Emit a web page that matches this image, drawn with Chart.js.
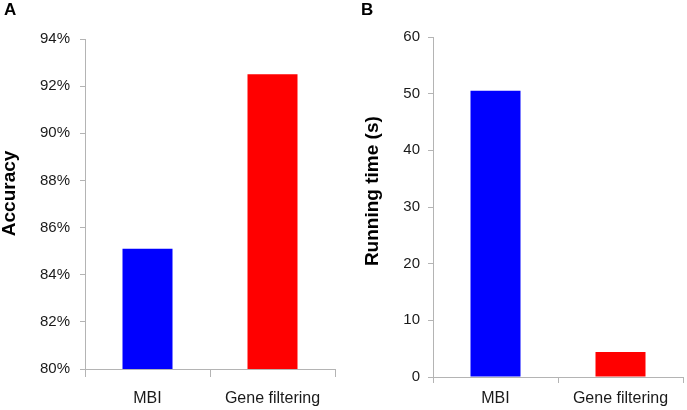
<!DOCTYPE html>
<html>
<head>
<meta charset="utf-8">
<script src="https://cdn.jsdelivr.net/npm/chart.js@4/dist/chart.umd.min.js"></script>
<style>
body{margin:0;background:#fff;width:687px;height:410px;position:relative;overflow:hidden;font-family:"Liberation Sans",Arial,sans-serif}
.panel{position:absolute;top:0;height:410px}
.letter{position:absolute;top:0;font-weight:bold;font-size:17px;color:#000}
</style>
</head>
<body>
<div class="panel" style="left:0;width:343px"><canvas id="accChart" width="343" height="410"></canvas></div>
<div class="panel" style="left:343px;width:344px"><canvas id="timeChart" width="344" height="410"></canvas></div>
<div class="letter" style="left:4px">A</div>
<div class="letter" style="left:361px">B</div>
<script>
const categories = ["MBI", "Gene filtering"]
const accuracy = [85.1, 92.5]
const runningTime = [50.5, 4.4]
const accuracyTicks = [80, 82, 84, 86, 88, 90, 92, 94]
const timeTicks = [0, 10, 20, 30, 40, 50, 60]
const barColors = ["#0000ff", "#ff0000"]

const axisGray = "#b4b4b4"
const txt = "#1a1a1a"
const fam = '"Liberation Sans", Arial, sans-serif'

// leading no-break spaces nudge the rotated title a bit above the axis centre
const lift = n => "\u00a0".repeat(n)

function makeChart(id, values, ticks, title, fmt, cfg){
  return new Chart(document.getElementById(id), {
    type: "bar",
    data: {
      labels: categories,
      datasets: [{
        data: values,
        backgroundColor: barColors,
        barPercentage: 0.4,
        categoryPercentage: 1
      }]
    },
    options: {
      responsive: false,
      animation: false,
      layout: {padding: {left: cfg.padLeft, right: cfg.padRight, top: cfg.padTop, bottom: 0}},
      plugins: {legend: {display: false}, tooltip: {enabled: false}},
      scales: {
        x: {
          grid: {offset: true, drawOnChartArea: false, drawTicks: true, tickLength: cfg.xTick, color: axisGray},
          border: {color: axisGray, width: 1},
          ticks: {color: txt, font: {family: fam, size: 16}, padding: cfg.xPad, maxRotation: 0},
          afterFit: s => { s.height = cfg.xHeight }
        },
        y: {
          min: ticks[0],
          max: ticks[ticks.length - 1],
          grid: {drawOnChartArea: false, drawTicks: true, tickLength: 5, color: axisGray},
          border: {color: axisGray, width: 1},
          ticks: {
            stepSize: ticks[1] - ticks[0],
            color: txt,
            font: {family: fam, size: 15},
            padding: cfg.yPad,
            callback: fmt
          },
          title: {
            display: true,
            text: lift(cfg.lift) + title,
            color: "#000",
            font: {family: fam, size: 19, weight: "bold", lineHeight: 1},
            padding: {top: 0, bottom: 0}
          },
          afterFit: s => { s.width = cfg.yWidth }
        }
      }
    }
  })
}

makeChart("accChart", accuracy, accuracyTicks, "Accuracy", v => v + "%",
  {padLeft: 0, padRight: 8, padTop: 39, yWidth: 85, yPad: 10, xHeight: 41, xTick: 8, xPad: 12, lift: 4})

makeChart("timeChart", runningTime, timeTicks, "Running time (s)", v => v,
  {padLeft: 20, padRight: 4, padTop: 37, yWidth: 70, yPad: 8, xHeight: 33, xTick: 6, xPad: 6, lift: 6})
</script>
</body>
</html>
